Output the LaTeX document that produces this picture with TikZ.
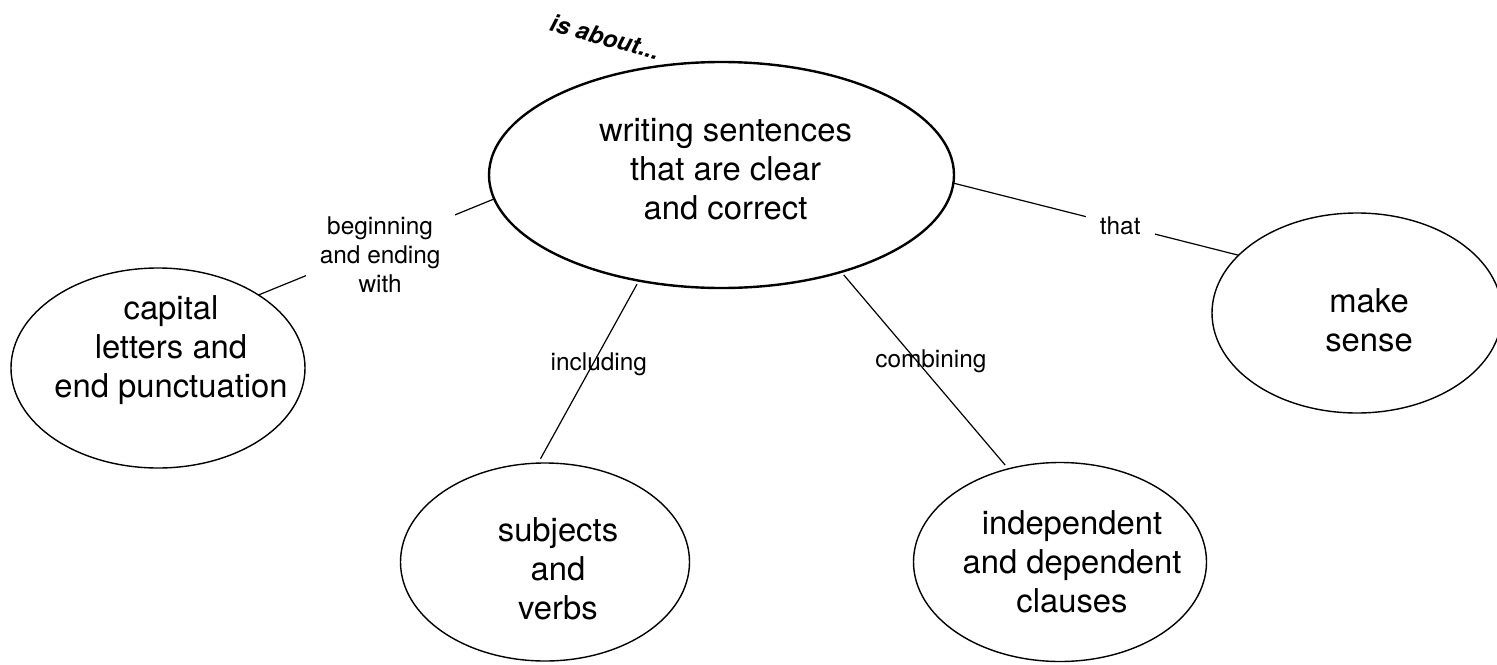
\documentclass[tikz,border=0pt]{standalone}
\usepackage{fontspec}
\setmainfont{TeX Gyre Heros}
\usetikzlibrary{positioning,shapes.geometric}
\tikzset{
  topic/.style={ellipse, draw, line width=1.2pt, inner sep=0pt, outer sep=0pt},
  idea/.style={topic, line width=0.7pt},
  ctext/.style={align=center, font=\fontsize{16.4}{19.5}\selectfont, inner sep=0pt},
  lbl/.style={align=center, font=\fontsize{12.2}{14.6}\selectfont, fill=white, inner sep=7pt},
  lblplain/.style={lbl, fill=none, inner sep=0pt},
  link/.style={draw, line width=0.6pt},
  linkgap/.style={link, shorten <=2pt, shorten >=2.5pt},
}
\begin{document}
\begin{tikzpicture}[x=0.5pt, y=-0.5pt]
  \useasboundingbox (0,0) rectangle (1497,664);
  % ellipses
  \node[topic, minimum width=232.5pt, minimum height=113pt] (main)  at (721.5,175) {};
  \node[idea,  minimum width=147pt,   minimum height=100pt] (caps)  at (158,368)   {};
  \node[idea,  minimum width=145pt,   minimum height=100pt] (sense) at (1357,313)  {};
  \node[idea,  minimum width=144.5pt, minimum height=99pt]  (subj)  at (545,562)   {};
  \node[idea,  minimum width=146.5pt, minimum height=99.5pt] (claus) at (1060,562) {};
  % texts
  \node[ctext] (mainT)  at (725.5,169) {writing sentences\\that are clear\\and correct};
  \node[ctext] (capsT)  at (171,350)   {capital\\letters and\\end punctuation};
  \node[ctext] (senseT) at (1369,320)  {make\\sense};
  \node[ctext] (subjT)  at (558,569)   {subjects\\and\\verbs};
  \node[ctext] (clausT) at (1072,562)  {independent\\and dependent\\clauses};
  \node[font=\fontsize{12}{14}\selectfont\bfseries\itshape, rotate=-15] (about) at (605,37) {is about...};
  % links
  \draw[link] (main.186.5) -- node[lbl, pos=0.484, yshift=-4.5pt] (begL) {beginning\\and ending\\with} (caps.36.5);
  \draw[link] (main.358) -- node[lbl, pos=0.585] (thatL) {that} (sense.154.4);
  \draw[linkgap] (main.232) -- node[lblplain, pos=0.457, xshift=3pt] (inclL) {including} (subj.94.4);
  \draw[linkgap] (main.321.5) -- node[lblplain, pos=0.453, xshift=7pt] (combL) {combining} (claus.119);
\end{tikzpicture}
\end{document}
